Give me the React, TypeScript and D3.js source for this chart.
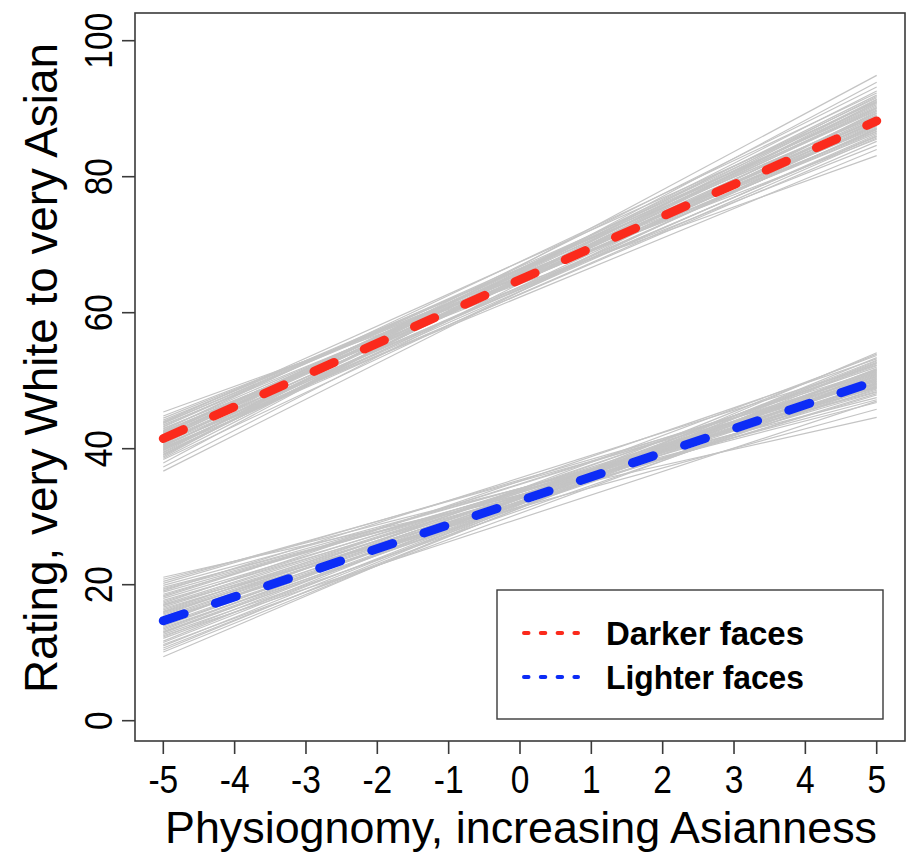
import * as d3 from 'd3';

const xTicks = [-5, -4, -3, -2, -1, 0, 1, 2, 3, 4, 5];
const yTicks = [0, 20, 40, 60, 80, 100];

// gray lines: rating at x = -5 and x = 5, one entry per line
const darkerStart = [44.8, 44.2, 43.9, 43.5, 43.2, 43.0, 42.7, 42.5, 42.3, 42.1, 41.9, 41.7, 41.5, 41.3, 41.1, 40.9, 40.7, 40.5, 40.3, 40.1, 39.9, 39.7, 39.4, 39.1, 38.8, 38.4, 37.9, 37.3, 36.7, 45.4, 44.5, 42.9, 41.6, 40.6, 39.5, 43.7, 42.0, 40.2, 38.6, 41.0, 44.0, 43.3, 42.6, 41.8, 41.2, 40.4, 39.8, 39.2, 43.8, 42.2, 40.8, 39.0, 42.4, 41.4, 40.0];
const darkerEnd = [85.5, 87.2, 91.0, 86.4, 89.8, 84.6, 92.3, 88.1, 86.9, 90.4, 87.6, 89.1, 88.5, 91.6, 85.9, 88.8, 93.2, 87.0, 90.0, 86.2, 89.4, 92.0, 88.3, 90.8, 94.9, 87.8, 93.9, 91.3, 89.6, 83.1, 86.7, 88.0, 90.6, 84.0, 92.6, 89.0, 87.4, 85.2, 91.8, 88.6, 88.9, 90.2, 86.6, 91.1, 87.9, 89.3, 85.7, 90.9, 87.5, 89.7, 86.0, 91.4, 88.4, 90.1, 87.1];
const lighterStart = [20.8, 20.2, 19.6, 19.1, 18.6, 18.2, 17.7, 17.3, 16.9, 16.5, 16.1, 15.7, 15.3, 14.9, 14.5, 14.1, 13.7, 13.3, 12.9, 12.5, 12.1, 11.7, 11.2, 10.7, 10.1, 9.4, 21.1, 18.9, 16.3, 13.9, 12.3, 15.0, 17.0, 14.3, 11.0, 19.3, 13.1, 15.9, 10.4, 18.0, 20.5, 19.9, 18.4, 17.5, 16.7, 15.5, 14.7, 13.5, 12.7, 11.5, 19.4, 17.1, 15.1, 13.0, 16.0];
const lighterEnd = [47.5, 50.6, 46.8, 52.3, 49.0, 51.5, 48.3, 53.2, 50.1, 47.9, 52.0, 49.6, 51.0, 48.8, 53.7, 50.4, 49.3, 52.7, 51.2, 47.0, 50.8, 53.9, 49.8, 51.8, 52.5, 54.1, 44.6, 48.6, 50.0, 51.4, 53.0, 49.5, 45.8, 50.2, 52.9, 47.2, 51.6, 48.1, 53.4, 49.1, 49.9, 48.4, 51.1, 50.5, 49.4, 52.2, 50.9, 51.7, 49.2, 52.6, 48.9, 50.3, 51.3, 50.7, 49.7];

// mean fit lines
const darkerMean = [41.5, 88.2];
const lighterMean = [14.7, 50.0];

const legendLabels = ['Darker faces', 'Lighter faces'];
const red = '#fb2a1c';
const blue = '#0c2cf6';
const gray = '#c4c4c4';
const axisCol = '#3a3a3a';
const font = 'Liberation Sans, Arial, Helvetica, sans-serif';

export default function App() {
	const x = d3.scaleLinear().domain([-5, 5]).range([163.3, 876.7]);
	const y = d3.scaleLinear().domain([0, 100]).range([720.7, 40.7]);
	const line = d3.line<[number, number]>().x(d => x(d[0])).y(d => y(d[1]));

	const seg = (a: number, b: number) => line([[-5, a], [5, b]]) as string;

	return (
		<svg width={906} height={852} style={{ position: 'absolute', left: 0, top: 0, background: '#fff' }} fontFamily={font}>
			{/* plot box */}
			<rect x={135} y={13} width={770} height={728} fill="none" stroke={axisCol} strokeWidth={1.6} />

			{darkerStart.map((s, i) => (
				<path key={'d' + i} d={seg(s, darkerEnd[i])} stroke={gray} strokeWidth={1.2} fill="none" />
			))}
			{lighterStart.map((s, i) => (
				<path key={'l' + i} d={seg(s, lighterEnd[i])} stroke={gray} strokeWidth={1.2} fill="none" />
			))}

			<path d={seg(darkerMean[0], darkerMean[1])} stroke={red} strokeWidth={9} strokeDasharray="22 33" strokeLinecap="round" fill="none" />
			<path d={seg(lighterMean[0], lighterMean[1])} stroke={blue} strokeWidth={9} strokeDasharray="22 33" strokeLinecap="round" fill="none" />

			{/* x axis */}
			{xTicks.map(t => (
				<g key={'xt' + t}>
					<line x1={x(t)} x2={x(t)} y1={741} y2={754} stroke={axisCol} strokeWidth={1.6} />
					<text transform={`translate(${x(t)},793) scale(0.86,1)`} textAnchor="middle" fontSize={39}>{t}</text>
				</g>
			))}
			<text x={521} y={843} textAnchor="middle" fontSize={45} textLength={712} lengthAdjust="spacingAndGlyphs">Physiognomy, increasing Asianness</text>

			{/* y axis */}
			{yTicks.map(t => (
				<g key={'yt' + t}>
					<line x1={122} x2={135} y1={y(t)} y2={y(t)} stroke={axisCol} strokeWidth={1.6} />
					<text transform={`translate(112,${y(t)}) rotate(-90) scale(0.86,1)`} textAnchor="middle" fontSize={39}>{t}</text>
				</g>
			))}
			<text transform="translate(57,368) rotate(-90)" textAnchor="middle" fontSize={46} textLength={650} lengthAdjust="spacingAndGlyphs">Rating, very White to very Asian</text>

			{/* legend */}
			<rect x={497} y={590} width={386} height={129} fill="#fff" stroke={axisCol} strokeWidth={1.4} />
			{legendLabels.map((lab, i) => (
				<g key={lab}>
					<line x1={524} x2={578} y1={633 + i * 44} y2={633 + i * 44} stroke={i === 0 ? red : blue} strokeWidth={4} strokeDasharray="4.5 12.3" strokeLinecap="round" />
					<text x={606} y={645 + i * 44} fontSize={33} fontWeight="bold" textLength={198} lengthAdjust="spacingAndGlyphs">{lab}</text>
				</g>
			))}
		</svg>
	);
}
